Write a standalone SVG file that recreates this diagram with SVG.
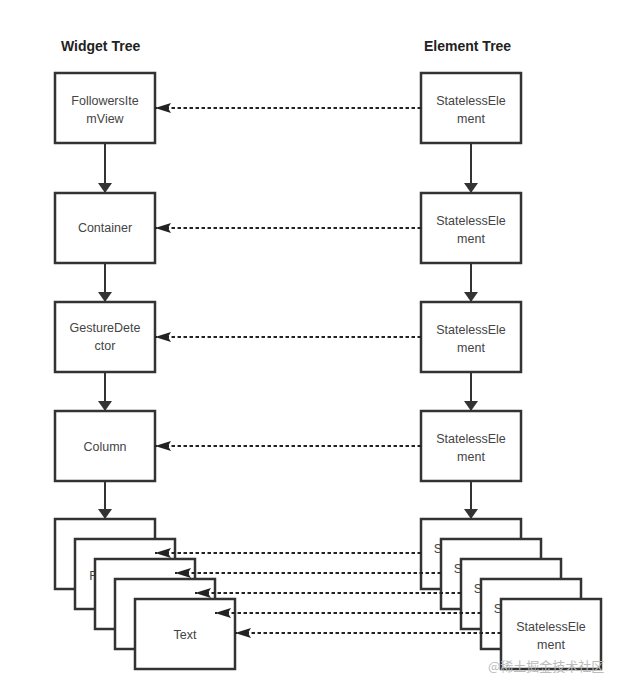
<svg xmlns="http://www.w3.org/2000/svg" width="626" height="694" viewBox="0 0 626 694">
<defs>
<marker id="ah" viewBox="0 0 10 14" refX="10" refY="7" markerWidth="10" markerHeight="14" markerUnits="userSpaceOnUse" orient="auto"><path d="M0,0 L10,7 L0,14 Z" fill="#333"/></marker>
<marker id="dh" viewBox="0 0 16 12" refX="16" refY="6" markerWidth="16" markerHeight="12" markerUnits="userSpaceOnUse" orient="auto"><path d="M0,1 L16,6 L0,11 L3,6 Z" fill="#222"/></marker>
</defs>
<style>
.b{fill:#fff;stroke:#333;stroke-width:2.5}
.t{font-family:"Liberation Sans",Arial,sans-serif;font-size:12.5px;fill:#444;text-anchor:middle}
.h{font-family:"Liberation Sans",Arial,sans-serif;font-size:14px;font-weight:bold;fill:#222}
.v{stroke:#333;stroke-width:2;fill:none;marker-end:url(#ah)}
.d{stroke:#222;stroke-width:2.2;stroke-dasharray:3.5 2.5;fill:none;marker-end:url(#dh)}
.w{font-family:"Noto Sans CJK SC",sans-serif;font-size:13px;fill:#bbb}
</style>
<rect width="626" height="694" fill="#fff"/>
<text class="h" x="61" y="51">Widget Tree</text>
<text class="h" x="424" y="51">Element Tree</text>
<g id="connectors-v">
<path class="v" d="M105,143 V193"/>
<path class="v" d="M105,263 V302"/>
<path class="v" d="M105,372 V411"/>
<path class="v" d="M105,481 V519"/>
<path class="v" d="M471,143 V193"/>
<path class="v" d="M471,263 V302"/>
<path class="v" d="M471,372 V411"/>
<path class="v" d="M471,481 V519"/>
</g>
<g id="w1"><rect class="b" x="55" y="73" width="100" height="70"/><text class="t" x="105" y="105">FollowersIte</text><text class="t" x="105" y="123">mView</text></g>
<g id="w2"><rect class="b" x="55" y="193" width="100" height="70"/><text class="t" x="105" y="232">Container</text></g>
<g id="w3"><rect class="b" x="55" y="302" width="100" height="70"/><text class="t" x="105" y="332">GestureDete</text><text class="t" x="105" y="350">ctor</text></g>
<g id="w4"><rect class="b" x="55" y="411" width="100" height="70"/><text class="t" x="105" y="451">Column</text></g>
<g id="w5"><rect class="b" x="55" y="519" width="100" height="70"/></g>
<g id="w6"><rect class="b" x="75" y="539" width="100" height="70"/><text class="t" x="93" y="580">F</text></g>
<g id="w7"><rect class="b" x="95" y="559" width="100" height="70"/></g>
<g id="w8"><rect class="b" x="115" y="579" width="100" height="70"/></g>
<g id="w9"><rect class="b" x="135" y="599" width="100" height="70"/><text class="t" x="185" y="639">Text</text></g>
<g id="e1"><rect class="b" x="421" y="73" width="100" height="70"/><text class="t" x="471" y="105">StatelessEle</text><text class="t" x="471" y="123">ment</text></g>
<g id="e2"><rect class="b" x="421" y="193" width="100" height="70"/><text class="t" x="471" y="225">StatelessEle</text><text class="t" x="471" y="243">ment</text></g>
<g id="e3"><rect class="b" x="421" y="302" width="100" height="70"/><text class="t" x="471" y="334">StatelessEle</text><text class="t" x="471" y="352">ment</text></g>
<g id="e4"><rect class="b" x="421" y="411" width="100" height="70"/><text class="t" x="471" y="443">StatelessEle</text><text class="t" x="471" y="461">ment</text></g>
<g id="e5"><rect class="b" x="421" y="519" width="100" height="70"/><text class="t" x="438" y="553">S</text></g>
<g id="e6"><rect class="b" x="441" y="539" width="100" height="70"/><text class="t" x="458" y="573">S</text></g>
<g id="e7"><rect class="b" x="461" y="559" width="100" height="70"/><text class="t" x="478" y="593">S</text></g>
<g id="e8"><rect class="b" x="481" y="579" width="100" height="70"/><text class="t" x="498" y="613">S</text></g>
<g id="e9"><rect class="b" x="501" y="599" width="100" height="70"/><text class="t" x="551" y="631">StatelessEle</text><text class="t" x="551" y="649">ment</text></g>
<g id="connectors-d">
<path class="d" d="M421,108 H155"/>
<path class="d" d="M421,228 H155"/>
<path class="d" d="M421,337 H155"/>
<path class="d" d="M421,446 H155"/>
<path class="d" d="M421,553 H155"/>
<path class="d" d="M441,573 H175"/>
<path class="d" d="M461,593 H195"/>
<path class="d" d="M481,613 H215"/>
<path class="d" d="M501,633 H235"/>
</g>
<text class="w" x="488" y="671">@稀土掘金技术社区</text>
</svg>
